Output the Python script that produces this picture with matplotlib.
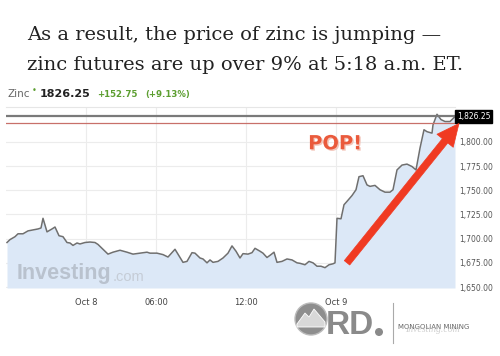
import matplotlib.pyplot as plt
import matplotlib.patheffects as pe
from matplotlib.patches import Circle, Polygon

# price trace (x = position along the trading session)
session_pos = [1, 4, 9, 12, 17, 22, 27, 32, 35, 37, 41, 46, 49, 53, 57, 61, 64, 67, 71, 74,
               79, 84, 89, 92, 97, 102, 107, 114, 121, 127, 134, 141, 144, 151, 157, 162, 169,
               177, 181, 186, 189, 194, 197, 201, 204, 207, 212, 217, 222, 226, 230, 234, 237,
               242, 246, 249, 254, 257, 261, 265, 268, 271, 276, 281, 286, 291, 294, 299, 303,
               307, 311, 315, 319, 323, 327, 329, 331, 335, 338, 341, 346, 347, 350, 353, 357,
               361, 364, 369, 374, 379, 384, 387, 391, 396, 401, 406, 410, 414, 418, 421, 426,
               427, 431, 435, 439, 444, 447, 449]
price = [1696, 1699, 1702, 1705, 1705, 1708, 1709, 1710, 1711, 1721, 1707, 1710, 1712, 1703,
         1702, 1696, 1695.5, 1693, 1695.5, 1694.5, 1696, 1696.5, 1696, 1694, 1689, 1684, 1686,
         1688, 1686, 1684, 1685, 1686, 1685, 1685, 1683.5, 1681, 1689, 1675.5, 1676.5, 1685.5,
         1685, 1680, 1679, 1675, 1678, 1675.5, 1676.5, 1680, 1685, 1692.5, 1687, 1680, 1684.5,
         1684, 1685.5, 1690, 1687, 1685, 1680.5, 1683.5, 1686, 1675.5, 1676.5, 1679, 1678,
         1675, 1674.5, 1673, 1676.5, 1675, 1671.5, 1671.5, 1670, 1673, 1674, 1675, 1721,
         1720.5, 1735, 1738.5, 1744.5, 1746, 1750.5, 1764, 1765, 1755.5, 1754, 1755, 1750.5,
         1748, 1748, 1750.5, 1771, 1776, 1777, 1774.5, 1771, 1793.5, 1812.5, 1810.5, 1809,
         1817.5, 1828.5, 1823, 1821, 1821, 1824, 1826.25]

last_price = 1826.25
ref_level = 1819.5
y_ticks = [1650, 1675, 1700, 1725, 1750, 1775, 1800]
x_tick_pos = [80, 150, 240, 330]
x_tick_labels = ["Oct 8", "06:00", "12:00", "Oct 9"]

arrow_start = (341, 1675)
arrow_end = (453, 1819)

fig = plt.figure(figsize=(5, 3.56), dpi=100)
fig.patch.set_facecolor("white")

# headline
serif = "DejaVu Serif"
fig.text(0.054, 0.8876, "As a result, the price of zinc is jumping \u2014",
         fontsize=14, family=serif, color="#222222", va="baseline")
fig.text(0.054, 0.8034, "zinc futures are up over 9% at 5:18 a.m. ET.",
         fontsize=14, family=serif, color="#222222", va="baseline")

# quote line
qy = 1 - 97 / 356
green = "#5c9e30"
fig.text(7 / 500, qy, "Zinc", fontsize=7.5, color="#666666", va="baseline")
fig.text(32 / 500, qy + 0.012, "\u2022", fontsize=6, color=green, va="baseline")
fig.text(40 / 500, qy, "1826.25", fontsize=8, weight="bold", color="#222222", va="baseline")
fig.text(97 / 500, qy, "+152.75", fontsize=6.2, weight="bold", color=green, va="baseline")
fig.text(145 / 500, qy, "(+9.13%)", fontsize=6.2, weight="bold", color=green, va="baseline")

ax = fig.add_axes([6 / 500, 1 - 288 / 356, 449 / 500, 181 / 356])
ax.set_xlim(0, 449)
ax.set_ylim(1649, 1836)
ax.fill_between(session_pos, price, 1649, color="#dce8f7", lw=0)
ax.plot(session_pos, price, color="#6f6f6f", lw=1.1)
ax.axhline(last_price, color="#7a7a7a", lw=1.6)
ax.axhline(ref_level, color="#c8706a", lw=0.9)

ax.set_yticks(y_ticks)
ax.set_xticks(x_tick_pos)
ax.set_xticklabels(x_tick_labels)
ax.yaxis.tick_right()
ax.set_yticklabels([f"{v:,.2f}" for v in y_ticks])
ax.tick_params(axis="y", length=0, labelsize=5.5, labelcolor="#555555", pad=3)
ax.tick_params(axis="x", length=0, labelsize=6, labelcolor="#444444", pad=7)
ax.grid(True, color="#ececec", lw=0.8)
ax.set_axisbelow(True)
for side in ["left", "right", "bottom"]:
    ax.spines[side].set_visible(False)
ax.spines["top"].set_color("#e6e6e6")

# last price tag
ax.text(451, last_price, f"{last_price:,.2f}", fontsize=5.5, color="white", va="center",
        ha="left", clip_on=False,
        bbox=dict(boxstyle="square,pad=0.25", fc="black", ec="black"))

# watermark
inv = ax.text(11, 1658, "Investing", fontsize=15.5, weight="bold", family="Liberation Sans",
              color="#b9c2ce", va="baseline")
ax.annotate(".com", xy=(1, 0), xycoords=inv, xytext=(1, 0), textcoords="offset points",
            fontsize=10.5, family="Liberation Sans", color="#c5ccd6", va="bottom")

# POP! and arrow
ax.text(329, 1798, "POP!", fontsize=14, weight="bold", color="#ea5a3c", ha="center",
        va="center", path_effects=[pe.withSimplePatchShadow(offset=(1, -1),
                                                             shadow_rgbFace="#f2c0b4",
                                                             alpha=0.9)])
ax.annotate("", xy=arrow_end, xytext=arrow_start, annotation_clip=False,
            arrowprops=dict(arrowstyle="simple,head_length=1.6,head_width=1.5,tail_width=0.5",
                            fc="#f03a22", ec="#f03a22", lw=0.5, shrinkA=0, shrinkB=0))

# logo at bottom right
logo = fig.add_axes([285 / 500, 0, 215 / 500, 56 / 356])
logo.set_xlim(285, 500)
logo.set_ylim(356, 300)
logo.set_aspect("equal")
logo.axis("off")
logo.add_patch(Circle((311, 319), 16, fc="#8e8e8e", ec="#bbbbbb", lw=1))
logo.add_patch(Polygon([(297, 324), (305, 313), (309, 317), (314, 309), (325, 322),
                        (325, 327), (297, 327)], closed=True, fc="#d8d8d8", ec="white", lw=0.6))
logo.text(326, 334, "RD", fontsize=24, weight="bold", family="Liberation Sans",
          color="#8a8a8a", va="baseline")
logo.add_patch(Circle((379, 332), 4, fc="#8a8a8a", ec="none"))
logo.plot([393, 393], [303, 343], color="#aaaaaa", lw=0.8)
logo.text(398, 327, "MONGOLIAN MINING", fontsize=5, color="#666666", va="center")
logo.text(405, 329, "Investing.com", fontsize=7, style="italic", family="Liberation Serif",
          color="#bbbbbb", va="center", alpha=0.7)

fig.savefig("out.png", dpi=100)
